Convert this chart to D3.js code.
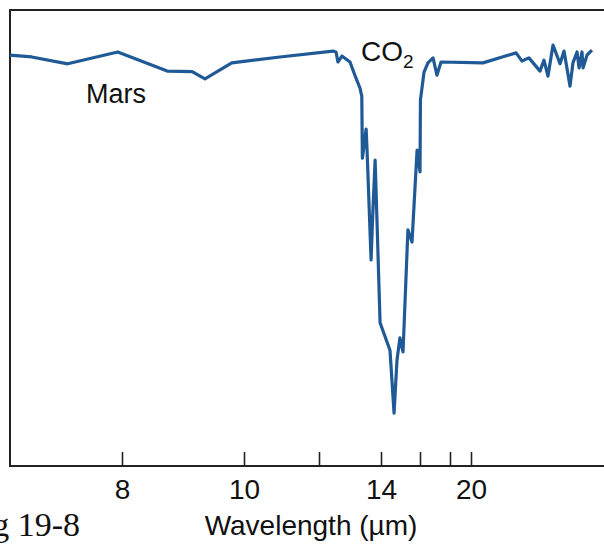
<!DOCTYPE html>
<html>
<head>
<meta charset="utf-8">
<script src="https://cdn.jsdelivr.net/npm/d3@7"></script>
<style>
  body { margin: 0; background: #fff; }
  svg text { font-family: "Liberation Sans", Arial, Helvetica, sans-serif; fill: #111; }
</style>
</head>
<body>
<svg id="chart"></svg>
<script>
const width = 604;
const height = 546;

// wavelength (um) and relative brightness
const wavelength = [6.16, 6.52, 7.11, 7.93, 8.74, 9.15, 9.36, 9.80, 10.96, 12.45,
  12.55, 12.61, 12.74, 13.00, 13.19, 13.32, 13.38, 13.40, 13.52, 13.55,
  13.68, 13.74, 13.81, 13.87, 13.97, 14.46, 14.67, 14.82, 14.97, 15.13,
  15.38, 15.59, 15.85, 16.00, 16.03, 16.27, 16.53, 16.87, 17.13, 17.40,
  21.14, 24.29, 24.86, 25.52, 26.57, 26.95, 27.33, 27.81, 28.48, 28.86,
  29.43, 29.71, 30.10, 30.29, 30.57, 30.67, 31.05, 31.52];
const brightness = [90.1, 89.7, 88.2, 90.8, 86.6, 86.5, 84.9, 88.4, 89.7, 91.0,
  90.8, 88.6, 89.9, 88.6, 85.1, 82.9, 81.1, 67.5, 73.9, 69.3,
  45.2, 56.1, 67.1, 53.9, 31.4, 25.4, 11.6, 23.2, 28.1, 25.0,
  51.8, 49.1, 69.3, 64.5, 80.3, 86.4, 88.4, 89.5, 85.7, 88.6,
  88.4, 90.6, 88.8, 89.5, 86.6, 89.0, 85.5, 92.3, 88.2, 91.0,
  83.3, 88.4, 90.8, 87.3, 90.8, 87.3, 90.1, 91.2];

const tickValues = [8, 10, 12, 14, 16, 18, 20];
const tickLabels = ['8', '10', '', '14', '', '', '20'];

const plotLeft = 10, plotTop = 10, plotBottom = 466, plotRight = width;

const svg = d3.select('#chart')
  .attr('width', width)
  .attr('height', height);

// the original axis is roughly linear in wavenumber, so use a piecewise scale
const x = d3.scaleLinear()
  .domain(tickValues)
  .range([122, 244, 319, 381, 420, 450, 471]);

const y = d3.scaleLinear()
  .domain([0, 100])
  .range([plotBottom, plotTop]);

// frame (left, top, bottom)
svg.append('path')
  .attr('d', `M${plotRight},${plotTop}H${plotLeft}V${plotBottom}H${plotRight}`)
  .attr('fill', 'none')
  .attr('stroke', '#222')
  .attr('stroke-width', 2);

const xAxis = d3.axisBottom(x)
  .tickValues(tickValues)
  .tickFormat((d, i) => tickLabels[i])
  .tickSizeInner(-14)
  .tickSizeOuter(0)
  .tickPadding(13);

const axisGroup = svg.append('g')
  .attr('transform', `translate(0,${plotBottom})`)
  .call(xAxis);

axisGroup.select('.domain').remove();
axisGroup.selectAll('line').attr('stroke', '#222').attr('stroke-width', 1.6);
axisGroup.selectAll('text')
  .style('font-family', '"Liberation Sans", Arial, sans-serif')
  .attr('font-size', 28)
  .attr('fill', '#111');

const data = wavelength.map((w, i) => [w, brightness[i]]);

const line = d3.line()
  .x(d => x(d[0]))
  .y(d => y(d[1]));

svg.append('path')
  .datum(data)
  .attr('d', line)
  .attr('fill', 'none')
  .attr('stroke', '#1f5a96')
  .attr('stroke-width', 3.2)
  .attr('stroke-linejoin', 'round');

// labels
svg.append('text')
  .attr('x', 86)
  .attr('y', 103)
  .attr('font-size', 27)
  .text('Mars');

const co2 = svg.append('text')
  .attr('x', 361)
  .attr('y', 61)
  .attr('font-size', 28);
co2.append('tspan').text('CO');
co2.append('tspan')
  .attr('font-size', 19)
  .attr('dy', 7)
  .text('2');

svg.append('text')
  .attr('x', 311)
  .attr('y', 535)
  .attr('text-anchor', 'middle')
  .attr('font-size', 28)
  .text('Wavelength (\u00b5m)');

svg.append('text')
  .attr('x', 80)
  .attr('y', 536)
  .attr('text-anchor', 'end')
  .style('font-family', '"Liberation Serif", "Times New Roman", serif')
  .attr('font-size', 34)
  .text('Fig 19-8');
</script>
</body>
</html>
